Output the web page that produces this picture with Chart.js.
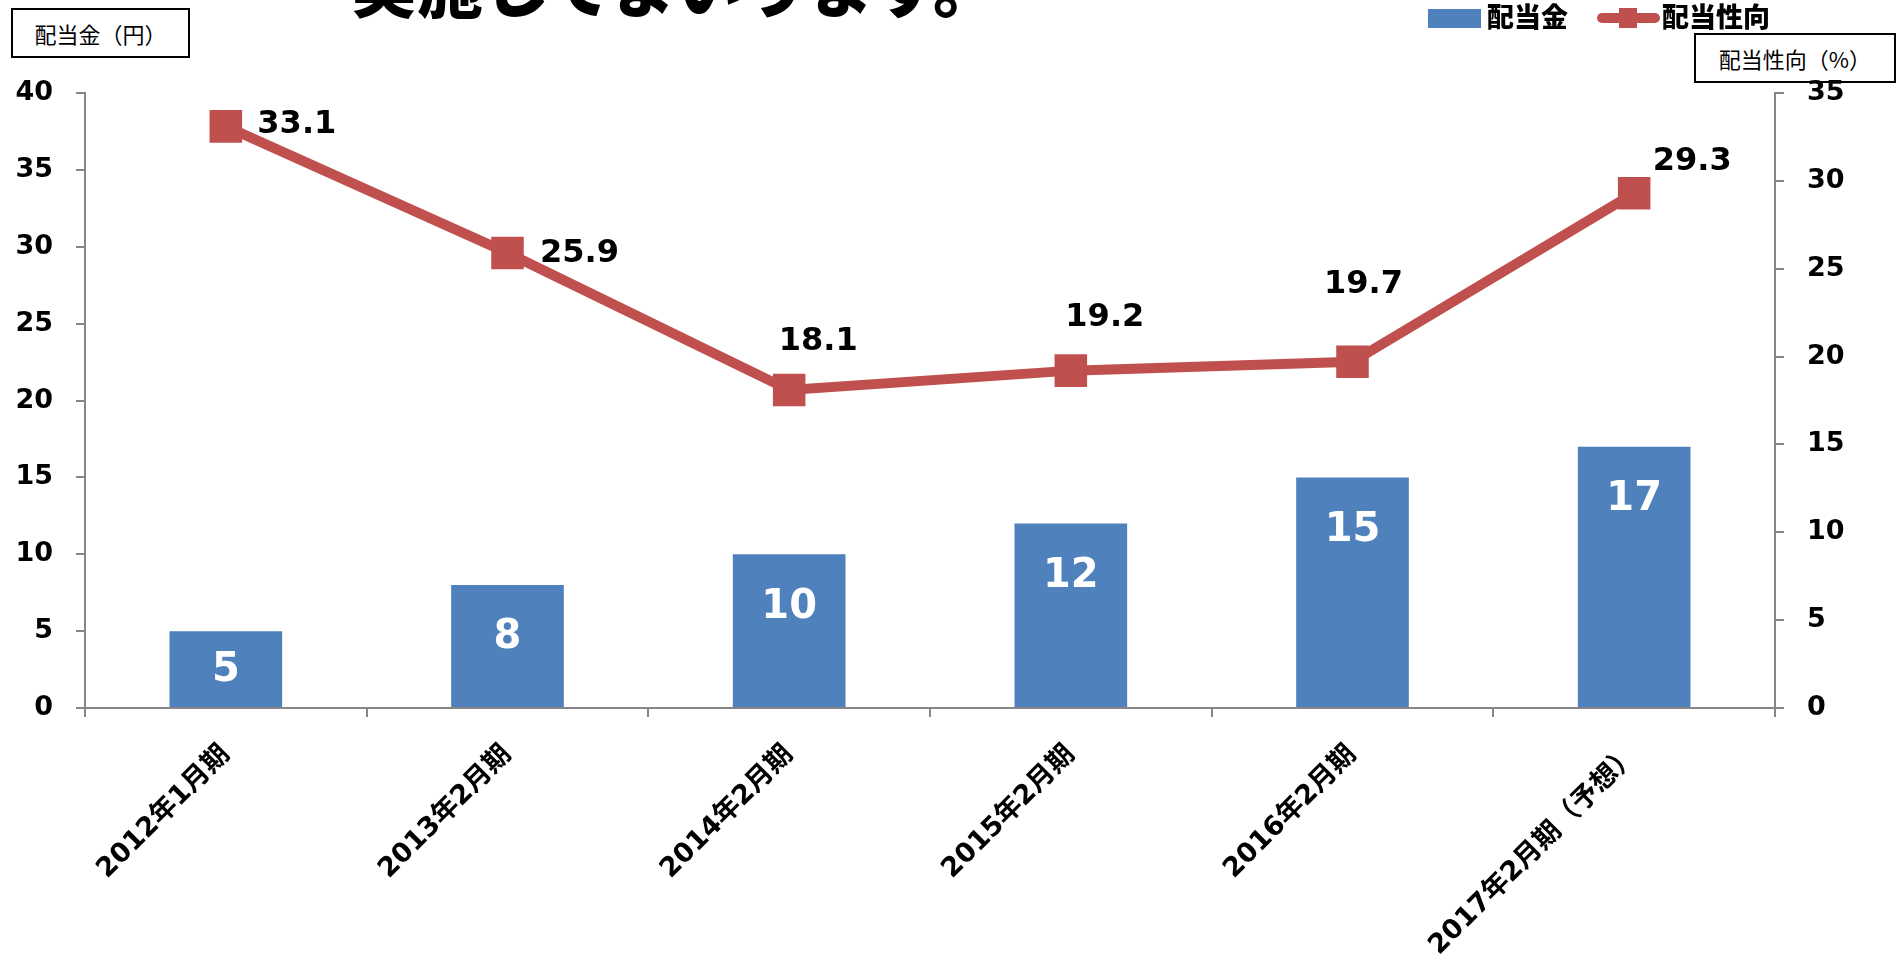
<!DOCTYPE html>
<html lang="ja">
<head>
<meta charset="utf-8">
<title>配当金・配当性向</title>
<script src="https://cdn.jsdelivr.net/npm/chart.js@4.4.1/dist/chart.umd.min.js"></script>
<style>
  body { margin: 0; background: #fff; }
  #wrap { position: relative; width: 1898px; height: 960px; overflow: hidden; }
  #chart { position: absolute; left: 0; top: 0; z-index: 2; }
  .headline {
    position: absolute; left: 351px; top: -50px; z-index: 1;
    font: 900 66px "Noto Sans CJK JP"; line-height: 66px; white-space: nowrap; color: #000;
  }
  .unit-box {
    position: absolute; z-index: 1; box-sizing: border-box; border: 2px solid #000;
    display: flex; align-items: center; justify-content: center;
    font: 22px "Noto Sans CJK JP"; color: #000;
  }
  .legend { position: absolute; z-index: 3; font: 900 27px "Noto Sans CJK JP"; color: #000; line-height: 27px; }
  .swatch { position: absolute; }
</style>
</head>
<body>
<div id="wrap">
  <div class="headline">実施してまいります。</div>
  <div class="unit-box" style="left:11px; top:8px; width:179px; height:50px;">配当金（円）</div>
  <div class="unit-box" style="left:1694px; top:33px; width:202px; height:50px;">配当性向（%）</div>

  <div class="swatch" style="left:1428px; top:9px; width:53px; height:19px; background:#4F81BD;"></div>
  <div class="legend" id="legBar" style="left:1487px; top:2px;"></div>
  <div class="swatch" style="left:1597px; top:13px; width:63px; height:10px; border-radius:5px; background:#C0504D;"></div>
  <div class="swatch" style="left:1619px; top:8px; width:18px; height:20px; background:#C0504D;"></div>
  <div class="legend" id="legLine" style="left:1662px; top:2px;"></div>

  <canvas id="chart" width="1898" height="960"></canvas>
</div>
<script>
// data
const categories = ['2012年1月期', '2013年2月期', '2014年2月期', '2015年2月期', '2016年2月期', '2017年2月期（予想）'];
const dividend = [5, 8, 10, 12, 15, 17];
const payoutRatio = [33.1, 25.9, 18.1, 19.2, 19.7, 29.3];
const seriesNames = ['配当金', '配当性向'];
const leftTicks = [0, 5, 10, 15, 20, 25, 30, 35, 40];
const rightTicks = [0, 5, 10, 15, 20, 25, 30, 35];

// where each payout label sits relative to its point
const lineLabelOffsets = [[71, -2], [72, 1], [29, -48], [34, -53], [11, -77], [58, -31]];

const FONT = '"DejaVu Sans", "Noto Sans CJK JP", sans-serif';
const AXIS_GREY = '#868686';

document.getElementById('legBar').textContent = seriesNames[0];
document.getElementById('legLine').textContent = seriesNames[1];

const valueLabels = {
    id: 'valueLabels',
    afterDatasetsDraw(chart) {
        const ctx = chart.ctx;
        ctx.save();
        ctx.textAlign = 'center';
        ctx.textBaseline = 'middle';

        // bar values, white inside the top of each bar
        ctx.fillStyle = '#fff';
        ctx.font = 'bold 40px ' + FONT;
        chart.getDatasetMeta(1).data.forEach((bar, i) => {
            const h = bar.base - bar.y;
            ctx.fillText(String(dividend[i]), bar.x, bar.y + Math.min(53, h / 2 + 2));
        });

        // payout ratio values
        ctx.fillStyle = '#000';
        ctx.font = 'bold 32px ' + FONT;
        chart.getDatasetMeta(0).data.forEach((pt, i) => {
            const [dx, dy] = lineLabelOffsets[i];
            ctx.fillText(payoutRatio[i].toFixed(1), pt.x + dx, pt.y + dy);
        });
        ctx.restore();
    }
};

const axisGrid = {
    drawOnChartArea: false,
    color: AXIS_GREY,
    lineWidth: 2,
    tickLength: 9
};

new Chart(document.getElementById('chart'), {
    data: {
        labels: categories,
        datasets: [{
            type: 'line',
            label: seriesNames[1],
            data: payoutRatio,
            yAxisID: 'y1',
            order: 1,
            borderColor: '#C0504D',
            backgroundColor: '#C0504D',
            borderWidth: 10,
            tension: 0,
            pointStyle: 'rect',
            pointRadius: 23,
            pointHoverRadius: 23,
            pointBorderWidth: 0
        }, {
            type: 'bar',
            label: seriesNames[0],
            data: dividend,
            yAxisID: 'y',
            order: 2,
            backgroundColor: '#4F81BD',
            categoryPercentage: 1,
            barPercentage: 0.4
        }]
    },
    options: {
        responsive: false,
        animation: false,
        layout: { padding: { top: 93, left: 0, right: 0, bottom: 0 } },
        plugins: { legend: { display: false }, tooltip: { enabled: false } },
        scales: {
            x: {
                offset: true,
                grid: { ...axisGrid, offset: true },
                border: { color: AXIS_GREY, width: 2 },
                ticks: {
                    autoSkip: false,
                    minRotation: 45,
                    maxRotation: 45,
                    padding: 22,
                    color: '#000',
                    font: { family: FONT, size: 27, weight: 'bold' }
                },
                afterFit(scale) { scale.height = 252; }
            },
            y: {
                position: 'left',
                min: 0,
                max: 40,
                afterBuildTicks(scale) { scale.ticks = leftTicks.map(v => ({ value: v })); },
                grid: axisGrid,
                border: { color: AXIS_GREY, width: 2 },
                ticks: {
                    padding: 23,
                    color: '#000',
                    font: { family: FONT, size: 27, weight: 'bold' }
                },
                afterFit(scale) { scale.width = 85; }
            },
            y1: {
                position: 'right',
                min: 0,
                max: 35,
                afterBuildTicks(scale) { scale.ticks = rightTicks.map(v => ({ value: v })); },
                grid: axisGrid,
                border: { color: AXIS_GREY, width: 2 },
                ticks: {
                    padding: 23,
                    color: '#000',
                    font: { family: FONT, size: 27, weight: 'bold' }
                },
                afterFit(scale) { scale.width = 123; }
            }
        }
    },
    plugins: [valueLabels]
});
</script>
</body>
</html>
